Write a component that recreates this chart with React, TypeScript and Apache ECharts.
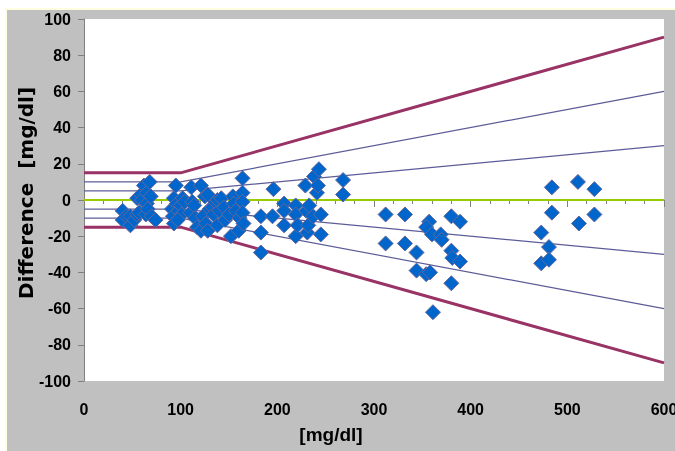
import React, { useEffect, useRef } from "react";
import * as echarts from "echarts";

// Reference glucose values [mg/dl] and differences [mg/dl]
const refValues = [
  40, 40, 44, 48, 48, 52, 55, 55, 57, 59, 60, 62, 64, 65, 65, 66, 68, 69, 70, 74,
  91, 92, 93, 93, 95, 96, 98, 100, 101, 102, 104, 97,
  111, 112, 110, 114, 115, 117, 121, 121, 123, 125, 126, 128, 128, 130, 133, 134, 136, 138, 138, 140,
  142, 145, 146, 150, 152, 154, 155, 157, 160, 161, 164, 164, 164, 164, 165,
  183, 183, 183, 195, 196, 207, 207, 207, 219, 219, 219, 221, 229, 230, 231, 232, 233, 237, 238, 241,
  242, 243, 245, 245, 268, 268,
  312, 332, 380, 389, 357, 354, 360, 369, 370, 312, 332, 344, 380, 381, 389, 344, 354, 358, 380, 361,
  473, 473, 481, 481, 484, 484, 511, 512, 528, 528,
];
const differences = [
  -6, -11, -9, -9, -14, -11, 1, -8, -7, 3, 0, 8, -8, 4, -2, -5, 10, 2, -9, -11,
  -5, -9, -13, 1, 8, -2, -6, -3, -8, 1, -1, -11,
  7, -1, -7, -3, -10, -15, 8, -17, -9, 2, -13, 3, -17, -5, -4, -8, -1, 0, -14, -6,
  1, -4, -11, -8, -20, 2, -2, -6, -17, -10, 12, 4, -1, -7, -13,
  -9, -18, -29, -9, 6, -2, -6, -14, -3, -8, -20, -14, 8, -6, -18, -14, -3, -9, 13, 4,
  8, 17, -8, -19, 11, 3,
  -8, -8, -9, -12, -12, -15, -19, -19, -22, -24, -24, -29, -28, -32, -34, -39, -41, -40, -46, -62,
  -18, -35, -26, -33, 7, -7, 10, -13, 6, -8,
];

// Acceptance limit lines: break points
const limitX = [0, 100, 600];
const upper15 = [15, 15, 90];
const lower15 = [-15, -15, -90];
const upper10 = [10, 10, 60];
const lower10 = [-10, -10, -60];
const upper5 = [5, 5, 30];
const lower5 = [-5, -5, -30];
const zeroLine = [0, 0, 0];

const yTitle = "Difference  [mg/dl]";
const xTitle = "[mg/dl]";

const tickFont = "'Liberation Sans', Arial, sans-serif";

export default function App() {
  const ref = useRef<HTMLDivElement>(null);
  useEffect(() => {
    if (!ref.current) return;
    const chart = echarts.init(ref.current, undefined, { renderer: "svg" });
    const pts = refValues.map((x, i) => [x, differences[i]]);
    const mk = (ys: number[]) => limitX.map((x, i) => [x, ys[i]]);
    const lineS = (name: string, ys: number[], color: string, width: number) => ({
      name,
      type: "line",
      data: mk(ys),
      symbol: "none",
      silent: true,
      z: 1,
      lineStyle: { color, width },
    });
    chart.setOption({
      animation: false,
      graphic: [
        { type: "rect", z: -10, shape: { x: 0, y: 0, width: 675, height: 451 }, style: { fill: "#ffffff" } },
        { type: "rect", z: -9, shape: { x: 5, y: 8, width: 670, height: 443 }, style: { fill: "#ffffe0" } },
        { type: "rect", z: -8, shape: { x: 7, y: 10, width: 668, height: 441 }, style: { fill: "#c0c0c0" } },
        {
          type: "text",
          x: 26,
          y: 193,
          rotation: Math.PI / 2,
          style: {
            text: yTitle,
            fontSize: 20,
            fontWeight: "bold",
            fontFamily: "'DejaVu Sans', sans-serif",
            fill: "#000000",
            align: "center",
            verticalAlign: "middle",
            textAlign: "center",
            textVerticalAlign: "middle",
          },
        },
        {
          type: "text",
          x: 331,
          y: 434,
          style: {
            text: xTitle,
            fontSize: 19,
            fontWeight: "bold",
            fontFamily: "'Liberation Sans', Arial, sans-serif",
            fill: "#000000",
            align: "center",
            verticalAlign: "middle",
            textAlign: "center",
            textVerticalAlign: "middle",
          },
        },
      ],
      grid: {
        left: 84,
        right: 11,
        top: 19,
        bottom: 70,
        show: true,
        backgroundColor: "#ffffff",
        borderWidth: 0,
        containLabel: false,
        outerBoundsMode: "none",
      },
      xAxis: {
        type: "value",
        min: 0,
        max: 600,
        interval: 100,
        axisLine: { show: true, lineStyle: { color: "#808080", width: 1 } },
        axisTick: { show: true, length: 7, lineStyle: { color: "#808080" } },
        minorTick: { show: true, splitNumber: 5, length: 4, lineStyle: { color: "#808080" } },
        splitLine: { show: false },
        axisLabel: {
          margin: 20,
          color: "#000000",
          fontSize: 16,
          fontWeight: "bold",
          fontFamily: tickFont,
        },
      },
      yAxis: {
        type: "value",
        min: -100,
        max: 100,
        interval: 20,
        axisLine: { show: true, onZero: false, lineStyle: { color: "#808080", width: 1 } },
        axisTick: { show: true, length: 6, lineStyle: { color: "#808080" } },
        splitLine: { show: false },
        axisLabel: {
          margin: 13,
          color: "#000000",
          fontSize: 16,
          fontWeight: "bold",
          fontFamily: tickFont,
        },
      },
      series: [
        lineS("+15", upper15, "#993366", 3),
        lineS("-15", lower15, "#993366", 3),
        lineS("+10", upper10, "#5c5c99", 1.2),
        lineS("-10", lower10, "#5c5c99", 1.2),
        lineS("+5", upper5, "#5c5c99", 1.2),
        lineS("-5", lower5, "#5c5c99", 1.2),
        lineS("0", zeroLine, "#99cc00", 1.8),
        {
          name: "Difference",
          type: "scatter",
          data: pts,
          symbol: "diamond",
          symbolSize: 15,
          z: 5,
          itemStyle: { color: "#0066cc", borderColor: "#666699", borderWidth: 1, opacity: 1 },
        },
      ],
    });
    return () => chart.dispose();
  }, []);
  return (
    <div
      ref={ref}
      style={{ position: "fixed", left: 0, top: 0, width: 675, height: 451 }}
    />
  );
}
